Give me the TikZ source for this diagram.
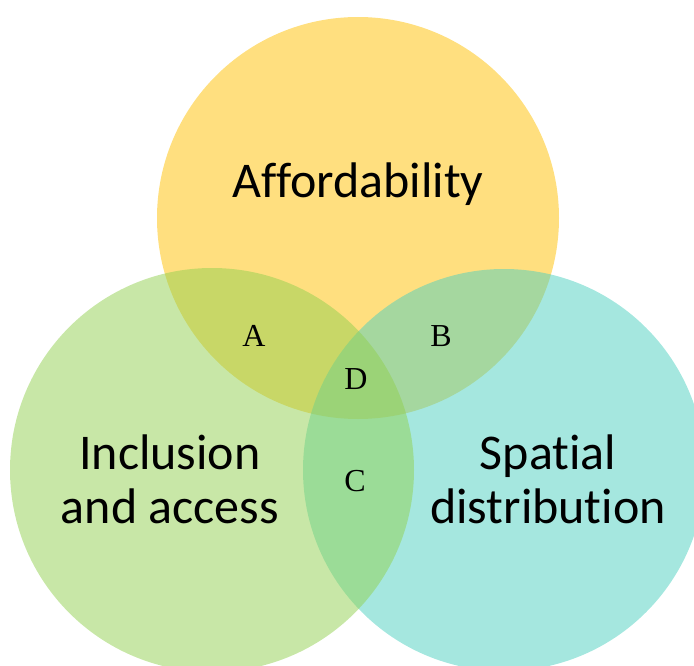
\documentclass[tikz,border=0pt]{standalone}
\usepackage{fontspec}
\setmainfont[Ligatures=NoCommon]{Carlito}
\newfontfamily\lettfont{Liberation Serif}
\definecolor{cyellow}{HTML}{FFC000}
\definecolor{cteal}{HTML}{4BD0C0}
\definecolor{cgreen}{HTML}{92D050}
\begin{document}
\begin{tikzpicture}[x=1pt,y=1pt,
  setcircle/.style={fill opacity=0.5, draw=none},
  bigtext/.style={font=\fontsize{50}{54}\selectfont, align=center, anchor=base, inner sep=0pt},
  lettext/.style={font=\lettfont\fontsize{32}{36}\selectfont, anchor=base, inner sep=0pt}]
\useasboundingbox (0,0) rectangle (694,-666);
\clip (0,0) rectangle (694,-666);
\fill[setcircle, cyellow] (358,-218) circle (201);
\fill[setcircle, cteal] (504,-470) circle (201);
\fill[setcircle, cgreen] (212,-470) circle (202);
\node[bigtext] (aff) at (358,-197) {Affordability};
\node[bigtext] (inc) at (170,-523) {Inclusion\\and access};
\node[bigtext] (spa) at (548,-523) {Spatial\\distribution};
\node[lettext] (la) at (254,-346) {A};
\node[lettext] (lb) at (441,-346) {B};
\node[lettext] (ld) at (356,-389) {D};
\node[lettext] (lc) at (355,-491) {C};
\end{tikzpicture}
\end{document}
